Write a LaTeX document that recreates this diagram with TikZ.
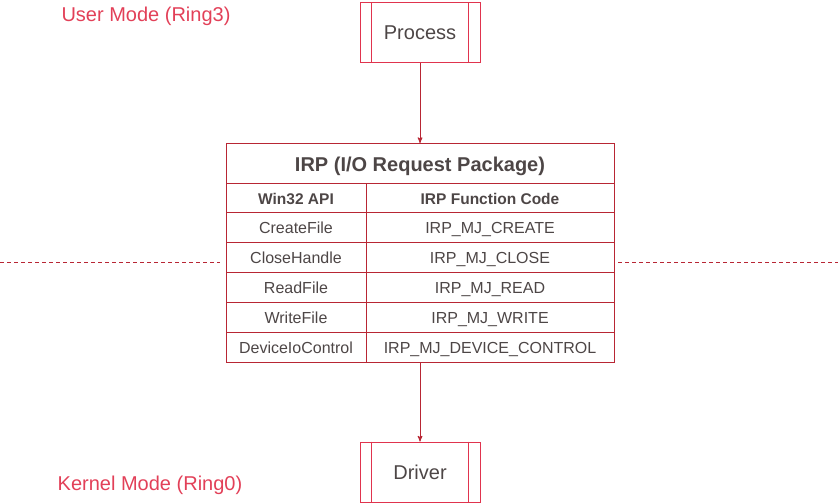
\documentclass[tikz,border=0pt]{standalone}
\usepackage{fontspec}
\setmainfont{Liberation Sans}
\usepackage{xcolor}
\usetikzlibrary{arrows,positioning}

\definecolor{boxred}{RGB}{224,52,78}
\definecolor{linered}{RGB}{184,38,52}
\definecolor{labelred}{RGB}{226,64,88}
\definecolor{txtgray}{RGB}{77,70,70}

\begin{document}
\begin{tikzpicture}[->,>=stealth',x=1pt,y=-1pt,line width=1pt]
  \tikzstyle{proc}=[draw=boxred,minimum width=120pt,minimum height=60pt,
                    text=txtgray,font=\fontsize{20}{24}\selectfont]
  \tikzstyle{cell}=[draw=linered,text=txtgray,inner sep=0pt,outer sep=0pt,
                    text height=13pt,text depth=0pt,
                    font=\fontsize{16}{19}\selectfont]
  \tikzstyle{apicell}=[cell,minimum width=140pt,minimum height=30pt]
  \tikzstyle{codecell}=[cell,minimum width=248pt,minimum height=30pt]
  \tikzstyle{mode}=[text=labelred,anchor=base,font=\fontsize{20}{24}\selectfont]

  \useasboundingbox (0,0) rectangle (838,503);

  \node[mode] (user)   at (146,21.5) {User Mode (Ring3)};
  \node[mode] (kernel) at (150,490)  {Kernel Mode (Ring0)};

  \node[proc] (proc) at (420,33)  {Process};
  \node[proc] (drv)  at (420,472) {Driver};
  \draw[-,boxred] ([xshift=12pt]proc.north west) -- ([xshift=12pt]proc.south west)
                  ([xshift=-12pt]proc.north east) -- ([xshift=-12pt]proc.south east)
                  ([xshift=12pt]drv.north west) -- ([xshift=12pt]drv.south west)
                  ([xshift=-12pt]drv.north east) -- ([xshift=-12pt]drv.south east);

  % the table
  \node[cell,minimum width=388pt,minimum height=40pt,text height=16pt,
        font=\bfseries\fontsize{20}{24}\selectfont] (irp) at (420,163) {IRP (I/O Request Package)};
  \node[apicell,minimum height=29pt,anchor=north west,text height=14pt,
        font=\bfseries\fontsize{15.5}{18}\selectfont] (api) at (irp.south west) {Win32 API};
  \node[codecell,minimum height=29pt,anchor=north west,text height=14pt,
        font=\bfseries\fontsize{15.5}{18}\selectfont] (code) at (api.north east) {IRP Function Code};

  \node[apicell]  (create)   [below=0pt of api]      {CreateFile};
  \node[codecell] (mjcreate) [below=0pt of code]     {IRP\_MJ\_CREATE};
  \node[apicell]  (close)    [below=0pt of create]   {CloseHandle};
  \node[codecell] (mjclose)  [below=0pt of mjcreate] {IRP\_MJ\_CLOSE};
  \node[apicell]  (read)     [below=0pt of close]    {ReadFile};
  \node[codecell] (mjread)   [below=0pt of mjclose]  {IRP\_MJ\_READ};
  \node[apicell]  (write)    [below=0pt of read]     {WriteFile};
  \node[codecell] (mjwrite)  [below=0pt of mjread]   {IRP\_MJ\_WRITE};
  \node[apicell]  (ioctl)    [below=0pt of write]    {DeviceIoControl};
  \node[codecell] (mjdevice) [below=0pt of mjwrite]  {IRP\_MJ\_DEVICE\_CONTROL};

  \coordinate (tblbot) at (proc |- mjdevice.south);

  % user / kernel border
  \coordinate (dl0) at (0,262);
  \coordinate (dl1) at (220,262);
  \coordinate (dr0) at (618,262);
  \coordinate (dr1) at (838,262);
  \draw[-,linered,dash pattern=on 4pt off 3pt] (dl0) -- (dl1) (dr0) -- (dr1);

  \draw[linered] (proc) -- (irp);
  \draw[linered] (tblbot) -- (drv);
\end{tikzpicture}
\end{document}
